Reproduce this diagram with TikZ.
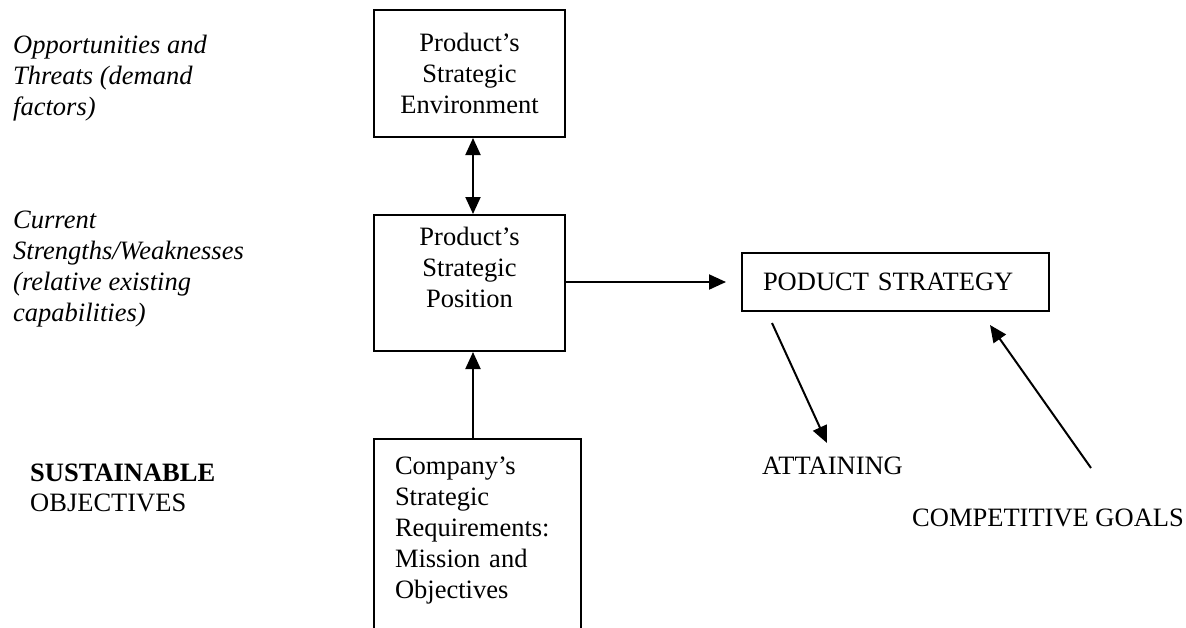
\documentclass[tikz,border=0pt]{standalone}
\usepackage{fontspec}
\setmainfont{Liberation Serif}
\usepackage{tikz}
\usetikzlibrary{calc,
                arrows.meta
                }

\tikzset{
    stratbox/.style={draw, line width=2pt, inner sep=0pt, align=center,
        font=\fontsize{26.5}{31}\selectfont},
    sidetext/.style={inner sep=0pt, align=left, anchor=north west,
        font=\fontsize{26.5}{31}\selectfont},
    conn/.style={line width=2pt, -{Triangle[length=17pt,width=15pt]}},
}

\begin{document}
\begin{tikzpicture}[x=1pt, y=-1pt]
    \useasboundingbox (0,0) rectangle (1186,627);

    \node[sidetext, font=\fontsize{26.5}{31}\selectfont\itshape] (opport) at (13,35)
        {Opportunities and\\Threats (demand\\factors)};
    \node[sidetext, font=\fontsize{26.5}{31}\selectfont\itshape] (current) at (13,211)
        {Current\\Strengths/Weaknesses\\(relative existing\\capabilities)};
    \node[sidetext, font=\fontsize{26.5}{30}\selectfont] (sustain) at (30,464)
        {\textbf{SUSTAINABLE}\\OBJECTIVES};

    \node[stratbox, minimum width=191pt, minimum height=127pt] (environ) at (469.5,73.5)
        {Product's\\Strategic\\Environment};
    \node[stratbox, minimum width=191pt, minimum height=136pt] (position) at (469.5,283)
        {Product's\\Strategic\\Position\\~};
    \node[stratbox, anchor=north, align=left, text width=165pt, inner xsep=21pt,
        minimum height=240pt] (company) at (477.5,438)
        {Company's\\Strategic\\Requirements:\\Mission and\\Objectives\\~\\~};
    \node[stratbox, align=left, text width=265pt, inner xsep=21pt,
        minimum height=58pt] (strategy) at (895.5,282) {PODUCT STRATEGY};

    \node[sidetext] (attain) at (762,457) {ATTAINING};
    \node[sidetext] (goals) at (912,509) {COMPETITIVE GOALS};

    \coordinate (attTail) at (772,323);
    \coordinate (attTip) at (827,443);
    \coordinate (compTail) at (1091,468);
    \coordinate (compTip) at (990,325);

    \draw[conn, {Triangle[length=17pt,width=15pt]}-{Triangle[length=17pt,width=15pt]}]
        ([xshift=3.5pt]environ.south) -- ([xshift=3.5pt]position.north);
    \draw[conn] ([xshift=-4.5pt]company.north) -- ([xshift=3.5pt]position.south);
    \draw[conn, shorten >=15pt] (position.east |- strategy.west) -- (strategy.west);
    \draw[conn] (attTail) -- (attTip);
    \draw[conn] (compTail) -- (compTip);
\end{tikzpicture}
\end{document}
